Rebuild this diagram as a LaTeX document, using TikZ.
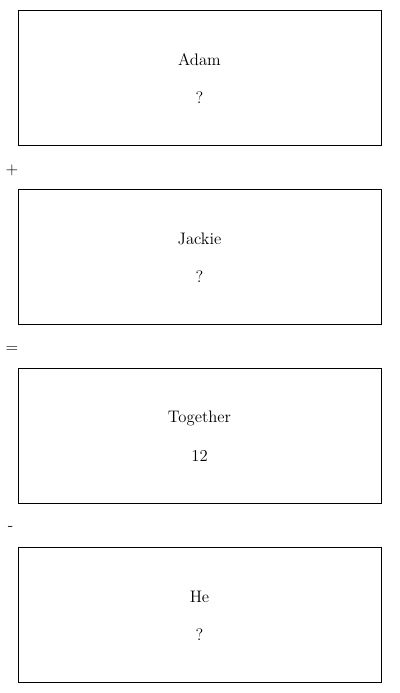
\documentclass[tikz,border=0pt]{standalone}
\begin{document}
\begin{tikzpicture}[x=0.75pt,y=-0.75pt,
  card/.style={draw,line width=0.75pt,minimum width=363*0.75pt,minimum height=135*0.75pt,inner sep=0pt,anchor=north west},
  lbl/.style={font=\fontsize{12.5}{15}\selectfont,inner sep=0pt},
  op/.style={font=\fontsize{12.5}{15}\selectfont,inner sep=0pt}]
\useasboundingbox (0,0) rectangle (400,693);
\node[card] (b1) at (18,10) {};
\node[card] (b2) at (18,189) {};
\node[card] (b3) at (18,368) {};
\node[card] (b4) at (18,547) {};
\node[lbl] (t1) at (199.5,60) {Adam};
\node[lbl] (v1) at (199.5,98) {?};
\node[lbl] (t2) at (199.5,239) {Jackie};
\node[lbl] (v2) at (199.5,277) {?};
\node[lbl] (t3) at (199.5,418) {Together};
\node[lbl] (v3) at (199.5,456) {12};
\node[lbl] (t4) at (199.5,597) {He};
\node[lbl] (v4) at (199.5,635) {?};
\node[op] (o1) at (12,170) {+};
\node[op] (o2) at (12,349) {=};
\node[op] (o3) at (10.5,528) {-};
\end{tikzpicture}
\end{document}
